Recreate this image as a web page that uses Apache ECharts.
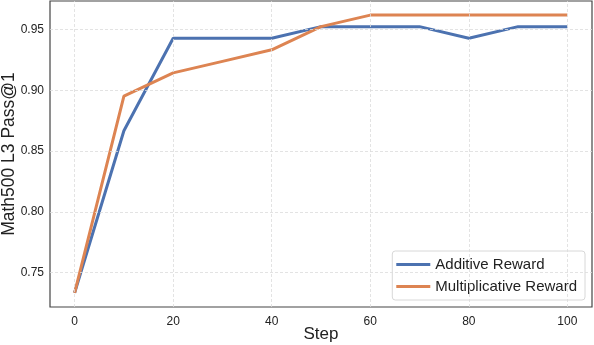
<!DOCTYPE html>
<html>
<head>
<meta charset="utf-8">
<script src="https://cdn.jsdelivr.net/npm/echarts@6/dist/echarts.min.js"></script>
<style>
  html, body { margin: 0; padding: 0; background: #fff; }
  #chart { width: 594px; height: 345px; }
</style>
</head>
<body>
<div id="chart"></div>
<script>
// data (L3 has 105 problems, values look like k/105)
var steps = [0, 10, 20, 30, 40, 50, 60, 70, 80, 90, 100];
var additive = [0.7333, 0.8667, 0.9429, 0.9429, 0.9429, 0.9524, 0.9524, 0.9524, 0.9429, 0.9524, 0.9524];
var multiplicative = [0.7333, 0.8952, 0.9143, 0.9238, 0.9333, 0.9524, 0.9619, 0.9619, 0.9619, 0.9619, 0.9619];
var xTicks = [0, 20, 40, 60, 80, 100];
var yTicks = [0.75, 0.80, 0.85, 0.90, 0.95];

var font = '"Liberation Sans", Arial, sans-serif';

function pairs(ys) {
    return steps.map(function (s, i) { return [s, ys[i]]; });
}

var chart = echarts.init(document.getElementById('chart'));

// axis extents have matplotlib's 5% margins, so the grid lines go in as markLines at the tick values
var gridLines = xTicks.map(function (v) { return { xAxis: v }; })
    .concat(yTicks.map(function (v) { return { yAxis: v }; }));

var option = {
    animation: false,
    grid: {
        left: 50, right: 2, top: 1, bottom: 38,
        outerBoundsMode: 'none',
        containLabel: false,
        show: true,
        borderColor: '#444',
        borderWidth: 1.2,
        backgroundColor: '#fff'
    },
    legend: {
        orient: 'vertical',
        right: 9,
        bottom: 45,
        backgroundColor: '#fff',
        borderColor: '#d8d8d8',
        borderWidth: 1,
        borderRadius: 3,
        padding: [6, 8, 6, 4],
        itemWidth: 34,
        itemHeight: 3,
        itemGap: 7,
        icon: 'rect',
        textStyle: { fontFamily: font, fontSize: 15, color: '#222' },
        data: ['Additive Reward', 'Multiplicative Reward']
    },
    xAxis: {
        type: 'value',
        min: -5,
        max: 105,
        name: 'Step',
        nameLocation: 'middle',
        nameGap: 19,
        nameMoveOverlap: false,
        nameTextStyle: { fontFamily: font, fontSize: 17, color: '#222' },
        axisLine: { show: false },
        axisTick: { show: false },
        axisLabel: {
            customValues: xTicks,
            fontFamily: font, fontSize: 12, color: '#222', margin: 9
        },
        splitLine: { show: false }
    },
    yAxis: {
        type: 'value',
        min: 0.7216,
        max: 0.9735,
        name: 'Math500 L3 Pass@1',
        nameLocation: 'middle',
        nameGap: 32,
        nameMoveOverlap: false,
        nameTextStyle: { fontFamily: font, fontSize: 17.5, color: '#222' },
        axisLine: { show: false },
        axisTick: { show: false },
        axisLabel: {
            customValues: yTicks,
            formatter: function (v) { return v.toFixed(2); },
            fontFamily: font, fontSize: 12, color: '#222', margin: 6
        },
        splitLine: { show: false }
    },
    series: [
        {
            name: 'grid',
            type: 'line',
            data: [],
            z: 1,
            markLine: {
                silent: true,
                symbol: 'none',
                label: { show: false },
                lineStyle: { color: '#dcdcdc', type: [3, 2], width: 0.8 },
                data: gridLines
            }
        },
        {
            name: 'Additive Reward',
            type: 'line',
            data: pairs(additive),
            symbol: 'none',
            color: '#4C72B0',
            lineStyle: { width: 3, color: '#4C72B0' },
            z: 3
        },
        {
            name: 'Multiplicative Reward',
            type: 'line',
            data: pairs(multiplicative),
            symbol: 'none',
            color: '#DD8452',
            lineStyle: { width: 3, color: '#DD8452' },
            z: 4
        }
    ]
};

chart.setOption(option);
</script>
</body>
</html>
